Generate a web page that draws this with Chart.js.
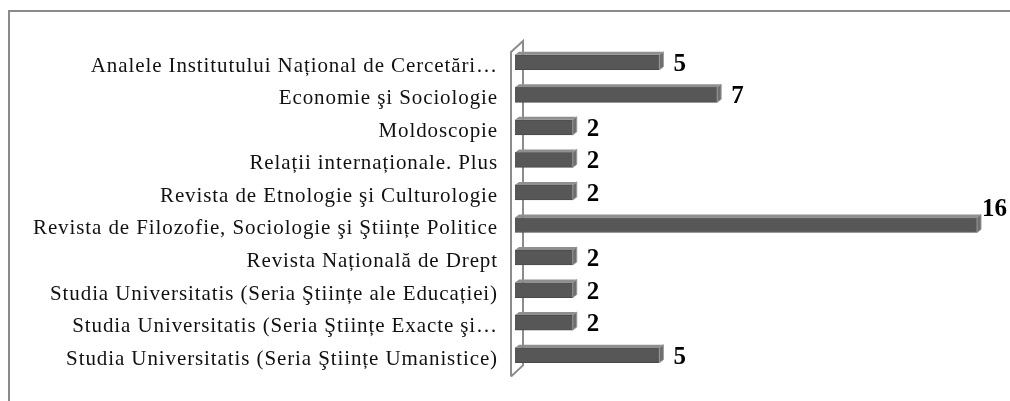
<!DOCTYPE html>
<html>
<head>
<meta charset="utf-8">
<script src="https://cdn.jsdelivr.net/npm/chart.js@4/dist/chart.umd.min.js"></script>
<style>
  html, body { margin: 0; padding: 0; background: #fff; overflow: hidden; }
  .frame { position: absolute; left: 8px; top: 10px; width: 1100px; height: 500px; border: 2px solid #8a8a8a; }
  .wrap { position: absolute; left: 0; top: 0; width: 1010px; height: 401px; }
</style>
</head>
<body>
<div class="frame"></div>
<div class="wrap"><canvas id="chart"></canvas></div>
<script>
const journals = [
  "Analele Institutului Național de Cercetări…",
  "Economie şi Sociologie",
  "Moldoscopie",
  "Relații internaționale. Plus",
  "Revista de Etnologie şi Culturologie",
  "Revista de Filozofie, Sociologie şi Ştiințe Politice",
  "Revista Națională de Drept",
  "Studia Universitatis (Seria Ştiințe ale Educației)",
  "Studia Universitatis (Seria Ştiințe Exacte şi…",
  "Studia Universitatis (Seria Ştiințe Umanistice)"
];
const articles = [5, 7, 2, 2, 2, 16, 2, 2, 2, 5];

// 3d look: wall on the left, top + side faces on each bar, value labels
const bars3d = {
  id: "bars3d",
  beforeDraw(chart) {
    // the source labels are set a bit loose
    chart.ctx.letterSpacing = "0.9px";
  },
  beforeDatasetsDraw(chart) {
    const ctx = chart.ctx;
    const a = chart.chartArea;
    const fx = a.left - 4, bx = a.left + 8;
    ctx.save();
    ctx.strokeStyle = "#8c8c8c";
    ctx.lineWidth = 2;
    ctx.beginPath();
    ctx.moveTo(fx, a.bottom + 5);
    ctx.lineTo(fx, a.top + 6);
    ctx.lineTo(bx, a.top - 5);
    ctx.lineTo(bx, a.bottom - 6);
    ctx.lineTo(fx, a.bottom + 5);
    ctx.stroke();
    ctx.restore();
  },
  afterDatasetsDraw(chart) {
    const ctx = chart.ctx;
    const dx = 4, dy = 3;
    ctx.save();
    ctx.letterSpacing = "0px";
    chart.getDatasetMeta(0).data.forEach((bar, i) => {
      const top = bar.y - bar.height / 2;
      const bottom = bar.y + bar.height / 2;
      ctx.fillStyle = "#8f8f8f";
      ctx.beginPath();
      ctx.moveTo(bar.base, top);
      ctx.lineTo(bar.base + dx, top - dy);
      ctx.lineTo(bar.x + dx, top - dy);
      ctx.lineTo(bar.x, top);
      ctx.closePath();
      ctx.fill();
      ctx.fillStyle = "#6e6e6e";
      ctx.beginPath();
      ctx.moveTo(bar.x, top);
      ctx.lineTo(bar.x + dx, top - dy);
      ctx.lineTo(bar.x + dx, bottom - dy);
      ctx.lineTo(bar.x, bottom);
      ctx.closePath();
      ctx.fill();
      ctx.strokeStyle = "#9a9a9a";
      ctx.lineWidth = 1;
      ctx.stroke();

      const txt = String(articles[i]);
      ctx.font = "bold 25px 'Liberation Serif'";
      ctx.fillStyle = "#000";
      ctx.textBaseline = "middle";
      const w = ctx.measureText(txt).width;
      let lx = bar.x + dx + 10;
      let ly = bar.y + 2;
      if (lx + w > chart.width - 2) {
        lx = chart.width - w - 3;
        ly = bar.y - 15;
      }
      ctx.fillText(txt, lx, ly);
    });
    ctx.restore();
  }
};

new Chart(document.getElementById("chart"), {
  type: "bar",
  data: {
    labels: journals,
    datasets: [{
      data: articles,
      backgroundColor: "#575757",
      borderColor: "#4a4a4a",
      borderWidth: 1,
      barThickness: 15
    }]
  },
  options: {
    indexAxis: "y",
    responsive: true,
    maintainAspectRatio: false,
    animation: false,
    layout: { padding: { left: 0, right: 33, top: 46, bottom: 29 } },
    scales: {
      x: { display: false, min: 0, max: 16 },
      y: {
        grid: { display: false, drawTicks: false },
        border: { display: false },
        afterFit(scale) { scale.width = 515; },
        ticks: {
          padding: 17,
          labelOffset: 4,
          color: "#111",
          font: { family: "'Liberation Serif'", size: 21 }
        }
      }
    },
    plugins: {
      legend: { display: false },
      tooltip: { enabled: false }
    }
  },
  plugins: [bars3d]
});
</script>
</body>
</html>
